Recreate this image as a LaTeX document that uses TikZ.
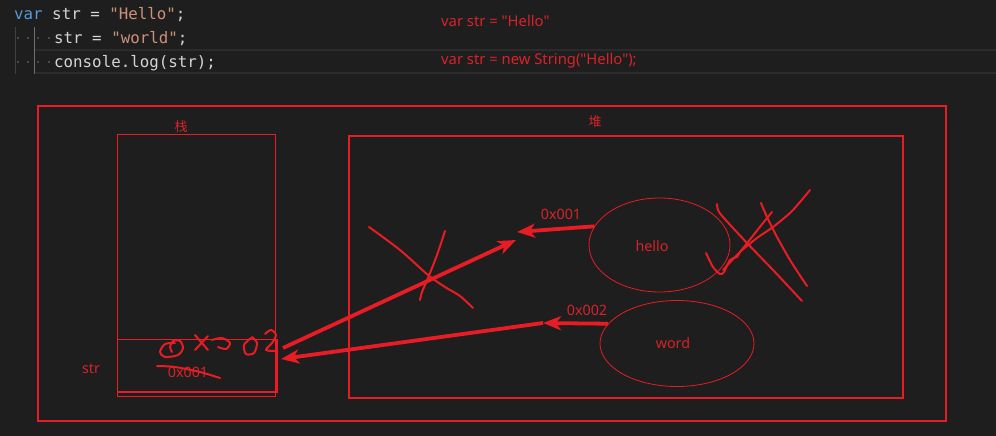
\documentclass[tikz,border=0pt]{standalone}
\usepackage{fontspec}
\setmainfont{Noto Sans}[Ligatures=TeXOff]
\setmonofont{DejaVu Sans Mono}
\newfontfamily\cjk{Noto Sans CJK SC}
\usetikzlibrary{arrows.meta,shapes.geometric}
\definecolor{bg}{HTML}{1E1E1E}
\definecolor{hlc}{HTML}{2B2B2B}
\definecolor{kw}{HTML}{569CD6}
\definecolor{vr}{HTML}{D4D4D4}
\definecolor{st}{HTML}{CE9178}
\definecolor{pl}{HTML}{D4D4D4}
\definecolor{rl}{HTML}{E81C24}
\definecolor{rt}{HTML}{D8232A}
\definecolor{gdark}{HTML}{404040}
\definecolor{glight}{HTML}{707070}
\definecolor{dotc}{HTML}{5A5A5A}
\tikzset{
  code/.style={inner sep=0pt, anchor=base west, text=pl, font=\ttfamily\fontsize{15.8}{18}\selectfont},
  note/.style={inner sep=0pt, anchor=base west, text=rt, font=\fontsize{14.8}{17}\selectfont},
  txt/.style={inner sep=0pt, text=rt, font=\fontsize{14.3}{17}\selectfont},
  cjklabel/.style={inner sep=0pt, text=rt, font=\cjk\fontsize{13}{15}\selectfont},
  frame/.style={draw=rl, line width=1.1pt},
  thinframe/.style={draw=rl, line width=0.9pt},
  heapobj/.style={ellipse, draw=rl, line width=0.8pt, inner sep=0pt},
  arrowthick/.style={draw=rl, line width=3.8pt, -{Stealth[length=18pt,width=14pt,inset=5pt]}},
  pen/.style={draw=rl, line width=2pt, line cap=round, line join=round},
  guide/.style={line width=1pt},
  hlline/.style={draw=hlc, line width=2pt},
}
\begin{document}
\begin{tikzpicture}[x=1pt,y=-1pt]
\fill[bg] (0,0) rectangle (996,436);
\useasboundingbox (0,0) rectangle (996,436);

% code editor area
\draw[hlline] (35,50.5) -- (996,50.5);
\draw[hlline] (35,72.7) -- (996,72.7);
\draw[guide, gdark] (15,27) -- (15,74);
\draw[guide, glight] (34,27) -- (34,74);
\foreach \xx in {18,28,38,49}{
  \fill[dotc] (\xx,38) circle (1.1pt);
  \fill[dotc] (\xx,62) circle (1.1pt);
}
\node[code] (l1) at (14,20) {\textcolor{kw}{var} \textcolor{vr}{str} = \textcolor{st}{"Hello"};};
\node[code] (l2) at (54,44) {\textcolor{vr}{str} = \textcolor{st}{"world"};};
\node[code] (l3) at (54,67) {console.log(\textcolor{vr}{str});};

% notes
\node[note] (n1) at (441,26.5) {var str = "Hello"};
\node[note] (n2) at (441,64) {var str = new String("Hello");};

% frames
\draw[frame] (38,106) rectangle (946,421);
\draw[thinframe] (117,134) rectangle (275,396);
\draw[thinframe] (117,339) -- (275,339);
\draw[draw=rl, line width=1.6pt] (117,392) -- (277,392);
\draw[draw=rl, line width=2.4pt] (276.5,339) -- (276.5,392.5);
\draw[frame] (349,136) rectangle (903,398);

\node[cjklabel] (stack) at (181,127) {栈};
\node[cjklabel] (heap) at (595,122) {堆};
\node[txt] (strlbl) at (91,369) {str};
\node[txt] (old) at (188,372) {0x001};

% heap objects
\node[heapobj, minimum width=141pt, minimum height=94pt] (hello) at (659.5,245) {};
\node[txt] (hellot) at (652,246) {hello};
\node[heapobj, minimum width=154pt, minimum height=86pt] (word) at (677,343.5) {};
\node[txt] (wordt) at (673,343) {word};
\node[txt] (addr1) at (561,214) {0x001};
\node[txt] (addr2) at (587,310) {0x002};

% arrows
\coordinate (a1tip) at (517,232);
\coordinate (s1) at (283,348);
\coordinate (a2tip) at (516,240);
\coordinate (a3tip) at (543,323);
\coordinate (a4tip) at (281,359);
\draw[arrowthick] (hello.164) -- (a1tip);
\draw[arrowthick] (s1) -- (a2tip);
\draw[arrowthick] (word.164) -- (a3tip);
\draw[arrowthick] (a3tip) -- (a4tip);

% handwritten strokes: crosses
\draw[pen] plot[smooth] coordinates {(369,227) (400,250) (428,275) (445,287) (460,296) (473,308)};
\draw[pen] plot[smooth] coordinates {(445,231) (437,255) (428,278) (422,292) (420,300)};
\draw[pen] plot[smooth] coordinates {(717,204) (718,210) (723,217) (747,243) (773,270) (802,301)};
\draw[pen] plot[smooth] coordinates {(761,203) (767,217) (777,237) (790,260) (803,280) (807,286)};
\draw[pen] plot[smooth] coordinates {(706,253) (713,267) (720,274) (724,272) (730,260) (737,257) (740,252) (748,242) (763,223) (772,212)};
\draw[pen] plot[smooth] coordinates {(723,270) (740,252) (757,238) (773,227) (790,213) (800,202) (810,190)};

% handwritten 0x002 and strike-through
\draw[pen] plot[smooth] coordinates {(175,343) (165,344) (160,352) (165,357) (178,355) (183,348) (180,341) (173,341) (170,347) (172,352)};
\draw[pen] (195,335) -- (208,350);
\draw[pen] (208,336) -- (195,350);
\draw[pen] plot[smooth] coordinates {(212,340) (222,338) (230,343) (226,349) (218,347)};
\draw[pen] plot[smooth] coordinates {(251,338) (244,345) (246,354) (254,353) (257,343) (252,337)};
\draw[pen] plot[smooth] coordinates {(265,334) (271,330) (276,335) (272,343) (266,350) (277,351)};
\draw[pen] plot[smooth] coordinates {(157,366) (175,367) (200,372) (220,378)};
\end{tikzpicture}
\end{document}
